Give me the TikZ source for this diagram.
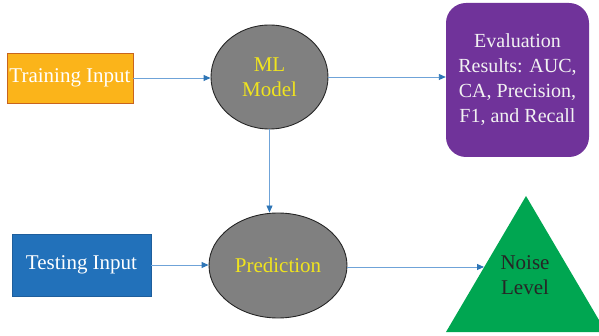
\documentclass[tikz,border=0pt]{standalone}
\usepackage{fontspec}
\setmainfont{Liberation Serif}
\usetikzlibrary{shapes.geometric,arrows.meta}
\definecolor{trainfill}{HTML}{FBB41A}
\definecolor{trainedge}{HTML}{C8641E}
\definecolor{testfill}{HTML}{2271BA}
\definecolor{testedge}{HTML}{1E5E9C}
\definecolor{evalfill}{HTML}{70339A}
\definecolor{modelfill}{HTML}{808080}
\definecolor{modeltext}{HTML}{F0E41E}
\definecolor{noisefill}{HTML}{00A651}
\definecolor{linkline}{HTML}{6FA3D8}
\definecolor{linktip}{HTML}{2E75B6}
\tikzset{
  inbox/.style={rectangle, inner sep=0pt, text=white, font=\fontsize{21}{25}\selectfont},
  blob/.style={ellipse, draw=black!85, line width=0.9pt, fill=modelfill, inner sep=0pt,
    text=modeltext, font=\fontsize{21}{25}\selectfont, align=center},
  link/.style={draw=linkline, line width=0.9pt, -{Triangle[length=7pt,width=6pt,color=linktip]}}
}
\begin{document}
\begin{tikzpicture}[x=1pt, y=-1pt]
  \useasboundingbox (0,0) rectangle (599,336);

  % inputs
  \node[inbox, fill=trainfill, draw=trainedge, line width=0.9pt,
        minimum width=126pt, minimum height=50pt] (train) at (70,78) {Training Input};
  \node[inbox, fill=testfill, draw=testedge, line width=0.6pt,
        minimum width=139pt, minimum height=62pt] (test) at (81.5,265) {Testing Input};

  % model and prediction
  \node[blob, minimum width=117pt, minimum height=104pt] (model) at (269.5,77) {ML\\Model};
  \node[blob, minimum width=138pt, minimum height=105pt] (pred) at (278,265.5) {Prediction};

  % evaluation results
  \node[rectangle, rounded corners=20pt, fill=evalfill, text=white!95!black,
        minimum width=143pt, minimum height=154pt, align=center,
        font=\fontsize{20}{25}\selectfont] (eval) at (517.5,80)
        {Evaluation\\Results: AUC,\\CA, Precision,\\F1, and Recall};

  % noise level triangle
  \fill[noisefill] (526,196) -- (606,332) -- (446,332) -- cycle;
  \node[font=\fontsize{21}{25}\selectfont, text=black!85, align=center] (noise) at (525,275.5) {Noise\\Level};
  \coordinate (noisein) at (484,267);

  % connectors
  \draw[link] (train.east) -- (model.west |- train.east);
  \draw[link] (model.east) -- (eval.west |- model.east);
  \draw[link] (model.south) -- (pred.north -| model.south);
  \draw[link] (test.east) -- (pred.west |- test.east);
  \draw[link] (pred.east |- noisein) -- (noisein);
\end{tikzpicture}
\end{document}
